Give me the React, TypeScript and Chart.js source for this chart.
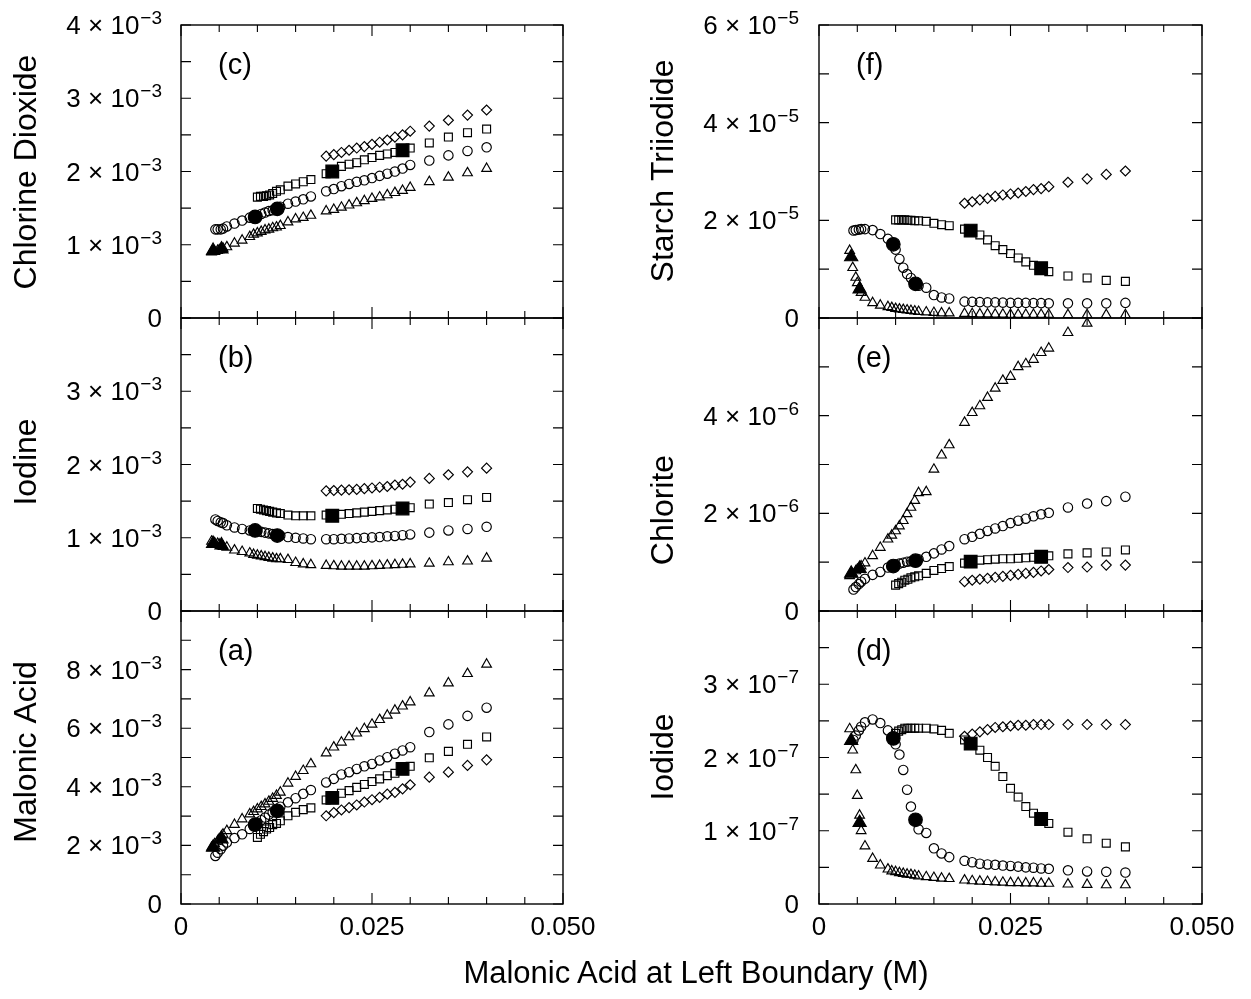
import React, { useEffect, useRef } from 'react';
import { Chart, registerables } from 'chart.js';

Chart.register(...registerables);

// ---------- x values of each marker series (Malonic acid at left boundary, M) ----------
const triX = [
  0.004, 0.0044, 0.0048, 0.005, 0.0053, 0.0055, 0.006, 0.007, 0.008, 0.009, 0.0095, 0.01, 0.0105, 0.011, 0.0115, 0.012,
  0.0125, 0.013, 0.014, 0.015, 0.016, 0.017,
  0.019, 0.02, 0.021, 0.022, 0.023, 0.024, 0.025, 0.026, 0.027, 0.028, 0.029, 0.03,
  0.0325, 0.035, 0.0375, 0.04,
];
const circX = [
  0.0045, 0.0048, 0.0052, 0.0055, 0.006, 0.007, 0.008, 0.009, 0.0095, 0.01, 0.0105, 0.011, 0.0115, 0.012, 0.0125, 0.013,
  0.014, 0.015, 0.016, 0.017,
  0.019, 0.02, 0.021, 0.022, 0.023, 0.024, 0.025, 0.026, 0.027, 0.028, 0.029, 0.03,
  0.0325, 0.035, 0.0375, 0.04,
];
const sqX = [
  0.01, 0.0104, 0.0108, 0.0112, 0.0116, 0.012, 0.0125, 0.013, 0.014, 0.015, 0.016, 0.017,
  0.019, 0.02, 0.021, 0.022, 0.023, 0.024, 0.025, 0.026, 0.027, 0.028, 0.029, 0.03,
  0.0325, 0.035, 0.0375, 0.04,
];
const diaX = [
  0.019, 0.02, 0.021, 0.022, 0.023, 0.024, 0.025, 0.026, 0.027, 0.028, 0.029, 0.03,
  0.0325, 0.035, 0.0375, 0.04,
];
const fillTriX = [0.0042, 0.0053];
const fillCircX = [0.0097, 0.0126];
const fillSqX = [0.0198, 0.029];

// ---------- (c) Chlorine Dioxide, units of 10^-3 ----------
const clo2Tri = [
  0.9, 0.91, 0.92, 0.93, 0.94, 0.95, 0.97, 1.02, 1.06, 1.11, 1.14, 1.16, 1.18, 1.2, 1.21, 1.23, 1.24, 1.26, 1.31, 1.35, 1.37, 1.4,
  1.46, 1.48, 1.51, 1.54, 1.57, 1.6, 1.63, 1.65, 1.68, 1.71, 1.74, 1.78,
  1.86, 1.92, 1.98, 2.04,
];
const clo2Circ = [
  1.21, 1.21, 1.21, 1.22, 1.25, 1.29, 1.33, 1.37, 1.38, 1.4, 1.42, 1.44, 1.46, 1.47, 1.49, 1.52, 1.56, 1.59, 1.62, 1.66,
  1.73, 1.76, 1.8, 1.83, 1.86, 1.88, 1.91, 1.94, 1.97, 2.0, 2.04, 2.09,
  2.15, 2.22, 2.28, 2.33,
];
const clo2Sq = [
  1.65, 1.66, 1.66, 1.67, 1.68, 1.7, 1.73, 1.75, 1.8, 1.83, 1.86, 1.89,
  1.97, 2.02, 2.07, 2.1, 2.12, 2.16, 2.19, 2.22, 2.24, 2.26, 2.29, 2.32,
  2.39, 2.47, 2.53, 2.58,
];
const clo2Dia = [2.21, 2.23, 2.26, 2.29, 2.32, 2.34, 2.37, 2.4, 2.43, 2.47, 2.5, 2.55, 2.62, 2.7, 2.77, 2.84];
const clo2FillTri = [0.92, 0.94];
const clo2FillCirc = [1.38, 1.49];
const clo2FillSq = [2.0, 2.29];

// ---------- (b) Iodine, units of 10^-3 ----------
const i2Tri = [
  0.95, 0.93, 0.92, 0.91, 0.89, 0.88, 0.87, 0.83, 0.81, 0.79, 0.77, 0.76, 0.75, 0.74, 0.73, 0.72, 0.71, 0.71, 0.7, 0.66, 0.64, 0.63,
  0.62, 0.615, 0.61, 0.61, 0.61, 0.61, 0.615, 0.62, 0.625, 0.63, 0.635, 0.64,
  0.65, 0.67, 0.68, 0.72,
];
const i2Circ = [
  1.25, 1.23, 1.21, 1.2, 1.17, 1.14, 1.12, 1.1, 1.1, 1.09, 1.08, 1.07, 1.06, 1.05, 1.04, 1.03, 1.01, 1.0, 0.99, 0.98,
  0.98, 0.98, 0.985, 0.99, 0.995, 1.0, 1.005, 1.01, 1.02, 1.025, 1.035, 1.045,
  1.07, 1.1, 1.12, 1.15,
];
const i2Sq = [
  1.4, 1.39, 1.38, 1.37, 1.36, 1.35, 1.34, 1.33, 1.31, 1.3, 1.3, 1.3,
  1.31, 1.31, 1.32, 1.33, 1.34, 1.35, 1.36, 1.37, 1.38, 1.39, 1.4, 1.41,
  1.46, 1.48, 1.52, 1.55,
];
const i2Dia = [1.64, 1.645, 1.65, 1.655, 1.66, 1.67, 1.68, 1.69, 1.7, 1.72, 1.73, 1.76, 1.81, 1.86, 1.9, 1.95];
const i2FillTri = [0.92, 0.9];
const i2FillCirc = [1.1, 1.03];
const i2FillSq = [1.3, 1.4];

// ---------- (a) Malonic Acid, units of 10^-3 ----------
const maTri = [
  1.93, 2.05, 2.15, 2.22, 2.32, 2.38, 2.5, 2.71, 2.9, 3.07, 3.15, 3.24, 3.32, 3.41, 3.5, 3.6, 3.7, 3.81, 4.12, 4.35, 4.55, 4.78,
  5.15, 5.35, 5.52, 5.7, 5.83, 5.98, 6.13, 6.29, 6.44, 6.61, 6.75, 6.89,
  7.2, 7.54, 7.86, 8.18,
];
const maCirc = [
  1.64, 1.75, 1.87, 1.99, 2.1, 2.25, 2.38, 2.56, 2.65, 2.78, 2.86, 2.95, 3.05, 3.13, 3.2, 3.32, 3.47, 3.61, 3.76, 3.89,
  4.15, 4.27, 4.42, 4.5, 4.61, 4.7, 4.78, 4.9, 5.01, 5.13, 5.24, 5.35,
  5.87, 6.13, 6.42, 6.7,
];
const maSq = [
  2.27, 2.38, 2.47, 2.56, 2.61, 2.71, 2.75, 2.84, 3.01, 3.13, 3.22, 3.28,
  3.55, 3.64, 3.78, 3.87, 3.98, 4.08, 4.18, 4.27, 4.38, 4.46, 4.58, 4.7,
  4.99, 5.21, 5.45, 5.7,
];
const maDia = [3.01, 3.12, 3.21, 3.29, 3.38, 3.48, 3.56, 3.64, 3.75, 3.81, 3.93, 4.07, 4.33, 4.5, 4.73, 4.92];
const maFillTri = [1.93, 2.21];
const maFillCirc = [2.71, 3.18];
const maFillSq = [3.62, 4.61];

// ---------- (f) Starch Triiodide, units of 10^-5 ----------
const stTri = [
  1.38, 1.03, 0.83, 0.72, 0.62, 0.52, 0.42, 0.31, 0.26, 0.23, 0.21, 0.19, 0.18, 0.17, 0.16, 0.15, 0.14, 0.13, 0.12, 0.11, 0.1, 0.1,
  0.09, 0.085, 0.08, 0.08, 0.075, 0.075, 0.07, 0.07, 0.07, 0.07, 0.07, 0.07,
  0.065, 0.065, 0.065, 0.065,
];
const stCirc = [
  1.79, 1.8, 1.81, 1.82, 1.82, 1.8, 1.72, 1.62, 1.53, 1.4, 1.21, 1.03, 0.9, 0.82, 0.72, 0.66, 0.62, 0.47, 0.42, 0.4,
  0.335, 0.33, 0.325, 0.32, 0.32, 0.315, 0.31, 0.31, 0.31, 0.305, 0.305, 0.3,
  0.3, 0.3, 0.3, 0.31,
];
const stSq = [
  2.01, 2.01, 2.01, 2.01, 2.0, 2.0, 1.99, 1.99, 1.98, 1.94, 1.91, 1.89,
  1.82, 1.78, 1.7, 1.6, 1.48, 1.4, 1.32, 1.23, 1.15, 1.08, 1.02, 0.95,
  0.86, 0.82, 0.77, 0.75,
];
const stDia = [2.35, 2.38, 2.42, 2.45, 2.49, 2.52, 2.54, 2.56, 2.59, 2.63, 2.65, 2.69, 2.78, 2.85, 2.94, 3.01];
const stFillTri = [1.25, 0.59];
const stFillCirc = [1.51, 0.7];
const stFillSq = [1.79, 1.02];

// ---------- (e) Chlorite, units of 10^-6 ----------
const clTri = [
  0.72, 0.76, 0.82, 0.85, 0.88, 0.92, 0.98, 1.13, 1.3, 1.47, 1.55, 1.64, 1.74, 1.85, 1.99, 2.12, 2.26, 2.42, 2.44, 2.9, 3.19, 3.4,
  3.86, 4.06, 4.2, 4.37, 4.56, 4.72, 4.8, 5.0, 5.06, 5.15, 5.29, 5.38,
  5.7, 5.89, 6.1, 6.3,
];
const clCirc = [
  0.44, 0.49, 0.55, 0.6, 0.66, 0.74, 0.8, 0.89, 0.91, 0.95, 0.97, 0.99, 1.01, 1.02, 1.03, 1.06, 1.11, 1.18, 1.26, 1.33,
  1.47, 1.52, 1.58, 1.64, 1.69, 1.74, 1.8, 1.85, 1.89, 1.94, 1.98, 2.01,
  2.12, 2.2, 2.25, 2.34,
];
const clSq = [
  0.53, 0.56, 0.59, 0.63, 0.65, 0.68, 0.7, 0.72, 0.77, 0.83, 0.87, 0.91,
  0.98, 1.01, 1.04, 1.05, 1.06, 1.07, 1.07, 1.08, 1.09, 1.1, 1.11, 1.13,
  1.17, 1.19, 1.21, 1.25,
];
const clDia = [0.6, 0.63, 0.65, 0.67, 0.69, 0.71, 0.73, 0.75, 0.77, 0.79, 0.82, 0.85, 0.89, 0.9, 0.94, 0.94];
const clFillTri = [0.77, 0.87];
const clFillCirc = [0.92, 1.03];
const clFillSq = [1.01, 1.11];

// ---------- (d) Iodide, units of 10^-7 ----------
const idTri = [
  2.39, 2.1, 1.83, 1.48, 1.21, 1.0, 0.79, 0.62, 0.53, 0.475, 0.45, 0.44, 0.425, 0.415, 0.405, 0.4, 0.39, 0.38, 0.37, 0.36, 0.35, 0.345,
  0.325, 0.315, 0.31, 0.305, 0.3, 0.295, 0.29, 0.29, 0.285, 0.285, 0.28, 0.28,
  0.27, 0.265, 0.26, 0.26,
];
const idCirc = [
  2.24, 2.3, 2.37, 2.42, 2.48, 2.52, 2.47, 2.37, 2.28, 2.18, 2.04, 1.83, 1.56, 1.33, 1.15, 1.02, 0.97, 0.76, 0.69, 0.64,
  0.59, 0.57, 0.55, 0.54, 0.535, 0.525, 0.52, 0.51, 0.5, 0.495, 0.485, 0.48,
  0.46, 0.445, 0.44, 0.43,
];
const idSq = [
  2.33, 2.36, 2.38, 2.4, 2.4, 2.4, 2.4, 2.4, 2.4, 2.39, 2.37, 2.33,
  2.24, 2.19, 2.1, 2.0, 1.88, 1.74, 1.58, 1.46, 1.33, 1.24, 1.16, 1.1,
  0.98, 0.89, 0.83, 0.78,
];
const idDia = [2.29, 2.32, 2.35, 2.38, 2.41, 2.42, 2.43, 2.44, 2.44, 2.45, 2.45, 2.45, 2.45, 2.45, 2.45, 2.45];
const idFillTri = [2.23, 1.11];
const idFillCirc = [2.26, 1.15];
const idFillSq = [2.19, 1.16];

// ---------- ticks ----------
const xMinorTicks = [0, 0.005, 0.01, 0.015, 0.02, 0.025, 0.03, 0.035, 0.04, 0.045, 0.05];
const xMajorTicks = [0, 0.025, 0.05];
const xTickLabels = ['0', '0.025', '0.050'];
const halfStepTo4 = [0, 0.5, 1, 1.5, 2, 2.5, 3, 3.5, 4];
const unitTo10 = [0, 1, 2, 3, 4, 5, 6, 7, 8, 9, 10];
const unitTo6 = [0, 1, 2, 3, 4, 5, 6];
const clo2Labels = [0, 1, 2, 3, 4];
const i2Labels = [0, 1, 2, 3];
const maLabels = [0, 2, 4, 6, 8];
const stLabels = [0, 2, 4, 6];
const clLabels = [0, 2, 4];
const idLabels = [0, 1, 2, 3];

const X_TITLE = 'Malonic Acid at Left Boundary (M)';
const FF = '"Liberation Sans", Arial, Helvetica, sans-serif';

// ---------- layout ----------
const COLS = [
  { plotLeft: 181, plotRight: 563, canvasLeft: 0, canvasWidth: 620, titleBase: 36, labelRight: 162 },
  { plotLeft: 819, plotRight: 1202, canvasLeft: 624, canvasWidth: 627, titleBase: 673, labelRight: 799 },
];
const ROW_TOP = [25, 318, 611];
const PANEL_H = 293;
const PAD_T = 30;
const PAD_B = 30;
const PAD_B_LAST = 60;

type Panel = {
  key: string;
  letter: string;
  title: string;
  titleCY: number;
  col: number;
  row: number;
  yMax: number;
  yTicks: number[];
  yLabels: number[];
  exp: number;
  tri: number[];
  circ: number[];
  sq: number[];
  dia: number[];
  fTri: number[];
  fCirc: number[];
  fSq: number[];
};

const PANELS: Panel[] = [
  { key: 'c', letter: '(c)', title: 'Chlorine Dioxide', titleCY: 172, col: 0, row: 0, yMax: 4, yTicks: halfStepTo4, yLabels: clo2Labels, exp: 3,
    tri: clo2Tri, circ: clo2Circ, sq: clo2Sq, dia: clo2Dia, fTri: clo2FillTri, fCirc: clo2FillCirc, fSq: clo2FillSq },
  { key: 'b', letter: '(b)', title: 'Iodine', titleCY: 462, col: 0, row: 1, yMax: 4, yTicks: halfStepTo4, yLabels: i2Labels, exp: 3,
    tri: i2Tri, circ: i2Circ, sq: i2Sq, dia: i2Dia, fTri: i2FillTri, fCirc: i2FillCirc, fSq: i2FillSq },
  { key: 'a', letter: '(a)', title: 'Malonic Acid', titleCY: 752, col: 0, row: 2, yMax: 10, yTicks: unitTo10, yLabels: maLabels, exp: 3,
    tri: maTri, circ: maCirc, sq: maSq, dia: maDia, fTri: maFillTri, fCirc: maFillCirc, fSq: maFillSq },
  { key: 'f', letter: '(f)', title: 'Starch Triiodide', titleCY: 171, col: 1, row: 0, yMax: 6, yTicks: unitTo6, yLabels: stLabels, exp: 5,
    tri: stTri, circ: stCirc, sq: stSq, dia: stDia, fTri: stFillTri, fCirc: stFillCirc, fSq: stFillSq },
  { key: 'e', letter: '(e)', title: 'Chlorite', titleCY: 510, col: 1, row: 1, yMax: 6, yTicks: unitTo6, yLabels: clLabels, exp: 6,
    tri: clTri, circ: clCirc, sq: clSq, dia: clDia, fTri: clFillTri, fCirc: clFillCirc, fSq: clFillSq },
  { key: 'd', letter: '(d)', title: 'Iodide', titleCY: 757, col: 1, row: 2, yMax: 4, yTicks: halfStepTo4, yLabels: idLabels, exp: 7,
    tri: idTri, circ: idCirc, sq: idSq, dia: idDia, fTri: idFillTri, fCirc: idFillCirc, fSq: idFillSq },
];

const pts = (xs: number[], ys: number[]) => xs.map((x, i) => ({ x, y: ys[i] }));

function makeDataset(label: string, data: { x: number; y: number }[], style: string, radius: number, filled: boolean) {
  return {
    label,
    data,
    pointStyle: style,
    pointRadius: radius,
    pointBorderWidth: 1.15,
    pointBorderColor: '#000',
    pointBackgroundColor: filled ? '#000' : 'rgba(0,0,0,0)',
    borderColor: '#000',
    backgroundColor: filled ? '#000' : 'rgba(0,0,0,0)',
    showLine: false,
  };
}

function framePlugin(p: Panel) {
  const col = COLS[p.col];
  const canvasTop = ROW_TOP[p.row] - PAD_T;
  return {
    id: 'frame_' + p.key,
    afterDraw(chart: any) {
      const { ctx, chartArea: a } = chart;
      const xs = chart.scales.x;
      const ys = chart.scales.y;
      ctx.save();
      ctx.strokeStyle = '#000';
      ctx.fillStyle = '#000';
      ctx.lineWidth = 1.4;
      ctx.strokeRect(a.left, a.top, a.right - a.left, a.bottom - a.top);
      ctx.lineWidth = 1.1;
      ctx.beginPath();
      for (const v of xMinorTicks) {
        const px = xs.getPixelForValue(v);
        const len = xMajorTicks.includes(v) ? 11 : 7;
        ctx.moveTo(px, a.top);
        ctx.lineTo(px, a.top + len);
        ctx.moveTo(px, a.bottom);
        ctx.lineTo(px, a.bottom - len);
      }
      for (const v of p.yTicks) {
        const py = ys.getPixelForValue(v);
        ctx.moveTo(a.left, py);
        ctx.lineTo(a.left + 10, py);
        ctx.moveTo(a.right, py);
        ctx.lineTo(a.right - 10, py);
      }
      ctx.stroke();

      // y tick labels
      const xEnd = col.labelRight - col.canvasLeft;
      const mainFont = `26px ${FF}`;
      const supFont = `19px ${FF}`;
      for (const v of p.yLabels) {
        const py = ys.getPixelForValue(v);
        const base = py + 9;
        if (v === 0) {
          ctx.font = mainFont;
          ctx.textAlign = 'right';
          ctx.textBaseline = 'alphabetic';
          ctx.fillText('0', xEnd, base);
        } else {
          const main = `${v} \u00d7 10`;
          const sup = `\u2212${p.exp}`;
          ctx.font = supFont;
          const sw = ctx.measureText(sup).width;
          ctx.font = mainFont;
          const mw = ctx.measureText(main).width;
          ctx.textAlign = 'left';
          ctx.textBaseline = 'alphabetic';
          ctx.fillText(main, xEnd - sw - mw - 1, base);
          ctx.font = supFont;
          ctx.fillText(sup, xEnd - sw, base - 10);
        }
      }

      // x tick labels on bottom row
      if (p.row === 2) {
        ctx.font = mainFont;
        ctx.textAlign = 'center';
        ctx.textBaseline = 'alphabetic';
        xMajorTicks.forEach((v, i) => {
          ctx.fillText(xTickLabels[i], xs.getPixelForValue(v), a.bottom + 31);
        });
      }

      // panel letter
      ctx.font = `29px ${FF}`;
      ctx.textAlign = 'left';
      ctx.textBaseline = 'alphabetic';
      ctx.fillText(p.letter, a.left + 37, a.top + 49);

      // y axis title
      ctx.save();
      ctx.translate(col.titleBase - col.canvasLeft, p.titleCY - canvasTop);
      ctx.rotate(-Math.PI / 2);
      ctx.font = `32px ${FF}`;
      ctx.textAlign = 'center';
      ctx.textBaseline = 'alphabetic';
      ctx.fillText(p.title, 0, 0);
      ctx.restore();

      ctx.restore();
    },
  };
}

function PanelChart({ p }: { p: Panel }) {
  const ref = useRef<HTMLCanvasElement | null>(null);
  const col = COLS[p.col];
  const top = ROW_TOP[p.row] - PAD_T;
  const padBottom = p.row === 2 ? PAD_B_LAST : PAD_B;
  const height = PANEL_H + PAD_T + padBottom;
  const width = col.canvasWidth;

  useEffect(() => {
    if (!ref.current) return;
    const chart = new Chart(ref.current, {
      type: 'scatter',
      data: {
        datasets: [
          makeDataset('filled squares', pts(fillSqX, p.fSq), 'rect', 9, true),
          makeDataset('filled circles', pts(fillCircX, p.fCirc), 'circle', 6.8, true),
          makeDataset('filled triangles', pts(fillTriX, p.fTri), 'triangle', 7.6, true),
          makeDataset('triangles', pts(triX, p.tri), 'triangle', 5.6, false),
          makeDataset('circles', pts(circX, p.circ), 'circle', 4.7, false),
          makeDataset('squares', pts(sqX, p.sq), 'rect', 5.6, false),
          makeDataset('diamonds', pts(diaX, p.dia), 'rectRot', 5, false),
        ] as any,
      },
      options: {
        responsive: false,
        animation: false,
        devicePixelRatio: 1,
        events: [],
        layout: {
          padding: {
            left: col.plotLeft - col.canvasLeft,
            right: col.canvasLeft + width - col.plotRight,
            top: PAD_T,
            bottom: padBottom,
          },
        },
        plugins: { legend: { display: false }, tooltip: { enabled: false } },
        scales: {
          x: { type: 'linear', min: 0, max: 0.05, display: false },
          y: { type: 'linear', min: 0, max: p.yMax, display: false },
        },
      } as any,
      plugins: [framePlugin(p)],
    });
    return () => chart.destroy();
  }, [p]);

  return (
    <canvas
      ref={ref}
      width={width}
      height={height}
      style={{ position: 'absolute', left: col.canvasLeft, top, width, height }}
    />
  );
}

export default function App() {
  return (
    <div
      style={{
        position: 'fixed',
        left: 0,
        top: 0,
        width: 1251,
        height: 999,
        background: '#fff',
        overflow: 'hidden',
      }}
    >
      {PANELS.map((p) => (
        <PanelChart key={p.key} p={p} />
      ))}
      <div
        style={{
          position: 'absolute',
          left: 396,
          width: 600,
          top: 957,
          textAlign: 'center',
          font: `31px ${FF}`,
          lineHeight: '31px',
          color: '#000',
          whiteSpace: 'nowrap',
        }}
      >
        {X_TITLE}
      </div>
    </div>
  );
}
